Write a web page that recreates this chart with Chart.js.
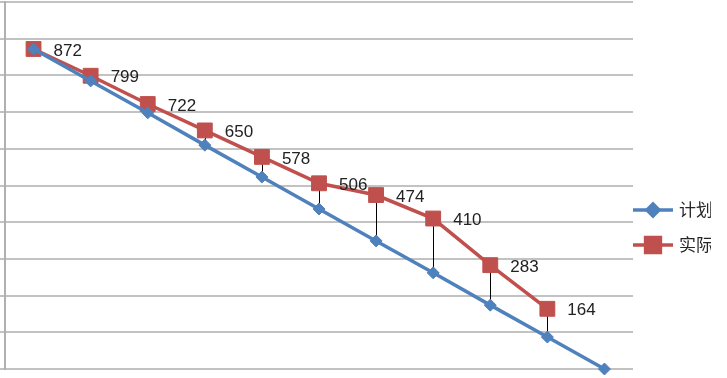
<!DOCTYPE html>
<html>
<head>
<meta charset="utf-8">
<script src="https://cdn.jsdelivr.net/npm/chart.js@4/dist/chart.umd.min.js"></script>
<style>
  html, body { margin: 0; padding: 0; background: #fff; overflow: hidden; }
</style>
</head>
<body>
<canvas id="chart" width="727" height="378"></canvas>
<script>
const categories = ['1', '2', '3', '4', '5', '6', '7', '8', '9', '10', '11'];
const planned = [872, 785, 698, 610, 523, 436, 349, 262, 174, 87, 0];
const actual = [872, 799, 722, 650, 578, 506, 474, 410, 283, 164];
const seriesNames = ['计划', '实际'];
const yTicks = { min: 0, max: 1000, step: 100 };

const blue = '#4F81BD';
const red = '#C0504D';

// black high-low lines between the two series
const highLow = {
    id: 'highLow',
    beforeDatasetsDraw(chart) {
        const a = chart.getDatasetMeta(0).data;
        const b = chart.getDatasetMeta(1).data;
        const ctx = chart.ctx;
        ctx.save();
        ctx.strokeStyle = '#000';
        ctx.lineWidth = 1;
        for (let i = 0; i < Math.min(a.length, b.length); i++) {
            ctx.beginPath();
            ctx.moveTo(Math.round(b[i].x) + 0.5, b[i].y);
            ctx.lineTo(Math.round(a[i].x) + 0.5, a[i].y);
            ctx.stroke();
        }
        ctx.restore();
    }
};

// value labels on the actual series + legend at the right
const labelsAndLegend = {
    id: 'labelsAndLegend',
    afterDraw(chart) {
        const ctx = chart.ctx;
        ctx.save();
        ctx.fillStyle = '#222';
        ctx.font = '17px "Liberation Sans", Arial, sans-serif';
        ctx.textAlign = 'left';
        ctx.textBaseline = 'middle';
        chart.getDatasetMeta(1).data.forEach((pt, i) => {
            ctx.fillText(String(actual[i]), pt.x + 20, pt.y + 2);
        });

        // legend, clipped like the reference
        ctx.beginPath();
        ctx.rect(0, 0, 711, chart.height);
        ctx.clip();
        const x0 = chart.chartArea.right;
        const rows = [
            { y: 210, color: blue, style: 'rectRot', r: 6 },
            { y: 245, color: red, style: 'rect', r: 10.5 }
        ];
        rows.forEach((row, i) => {
            ctx.strokeStyle = row.color;
            ctx.lineWidth = 3.5;
            ctx.beginPath();
            ctx.moveTo(x0, row.y);
            ctx.lineTo(x0 + 40, row.y);
            ctx.stroke();
            ctx.fillStyle = row.color;
            Chart.helpers.drawPoint(ctx, { pointStyle: row.style, radius: row.r, borderWidth: 1 }, x0 + 20, row.y);
            ctx.fill();
            ctx.fillStyle = '#262626';
            ctx.font = '17px "Noto Sans CJK SC", sans-serif';
            ctx.fillText(seriesNames[i], x0 + 46, row.y);
        });
        ctx.restore();
    }
};

new Chart(document.getElementById('chart').getContext('2d'), {
    type: 'line',
    data: {
        labels: categories,
        datasets: [{
            label: seriesNames[0],
            data: planned,
            borderColor: blue,
            backgroundColor: blue,
            borderWidth: 3.5,
            pointStyle: 'rectRot',
            pointRadius: 6,
            pointBorderWidth: 1,
            tension: 0,
            clip: false
        }, {
            label: seriesNames[1],
            data: actual,
            borderColor: red,
            backgroundColor: red,
            borderWidth: 3.5,
            pointStyle: 'rect',
            pointRadius: 10.5,
            pointBorderWidth: 1,
            tension: 0,
            clip: false
        }]
    },
    options: {
        responsive: false,
        animation: false,
        layout: { autoPadding: false, padding: { left: 0, top: 2, bottom: 9, right: 94 } },
        plugins: {
            legend: { display: false },
            tooltip: { enabled: false }
        },
        scales: {
            x: {
                display: false,
                offset: true
            },
            y: {
                min: yTicks.min,
                max: yTicks.max,
                ticks: { display: false, stepSize: yTicks.step },
                grid: { color: '#c2c2c2', lineWidth: 2, tickLength: 5 },
                border: { display: true, color: '#b0b0b0', width: 2 }
            }
        }
    },
    plugins: [highLow, labelsAndLegend]
});
</script>
</body>
</html>
